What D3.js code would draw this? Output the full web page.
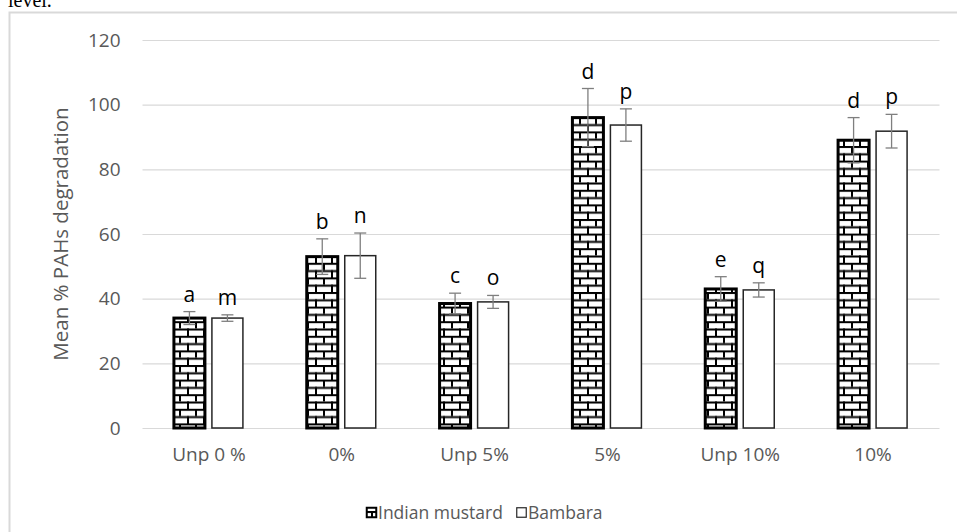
<!DOCTYPE html>
<html>
<head>
<meta charset="utf-8">
<script src="https://cdn.jsdelivr.net/npm/d3@7"></script>
<style>
  html, body { margin: 0; padding: 0; background: #fff; }
  svg { display: block; }
</style>
</head>
<body>
<svg id="chart" width="957" height="532"></svg>
<script>
// Treatments along the x axis
const categories = ["Unp 0 %", "0%", "Unp 5%", "5%", "Unp 10%", "10%"];
const seriesNames = ["Indian mustard", "Bambara"];

// Mean % PAHs degradation and standard error for each plant
const mustardValues = [34, 53, 38.5, 96, 43, 89];
const mustardErrors = [2, 5.5, 3.2, 9, 3.8, 7];
const bambaraValues = [34, 53.3, 39, 93.7, 42.7, 91.8];
const bambaraErrors = [1, 7, 2, 5, 2.2, 5.2];

// Significance letters above each bar
const mustardLetters = ["a", "b", "c", "d", "e", "d"];
const bambaraLetters = ["m", "n", "o", "p", "q", "p"];

const yTicks = [0, 20, 40, 60, 80, 100, 120];

const svg = d3.select("#chart");
const font = "'Open Sans', 'Noto Sans', sans-serif";
const textGrey = "#595959";

// Brick fill used for the Indian mustard bars
const defs = svg.append("defs");
const brick = defs.append("pattern")
  .attr("id", "brick")
  .attr("patternUnits", "userSpaceOnUse")
  .attr("width", 16).attr("height", 14.6);
brick.append("rect").attr("width", 16).attr("height", 14.6).attr("fill", "#fff");
brick.append("rect").attr("x", 0).attr("y", 0).attr("width", 16).attr("height", 2).attr("fill", "#000");
brick.append("rect").attr("x", 0).attr("y", 7.3).attr("width", 16).attr("height", 2).attr("fill", "#000");
brick.append("rect").attr("x", 3).attr("y", 0).attr("width", 2).attr("height", 7.3).attr("fill", "#000");
brick.append("rect").attr("x", 11).attr("y", 7.3).attr("width", 2).attr("height", 7.3).attr("fill", "#000");

// Caption fragment above the chart frame
svg.append("text")
  .attr("x", 8).attr("y", 7)
  .attr("font-family", "'Liberation Serif', 'Times New Roman', serif")
  .attr("font-size", 20)
  .attr("fill", "#000")
  .text("level.");

// Chart frame
svg.append("rect")
  .attr("x", 9.5).attr("y", 12.5)
  .attr("width", 960).attr("height", 540)
  .attr("fill", "#fff")
  .attr("stroke", "#d9d9d9").attr("stroke-width", 2);

const plot = { left: 142.5, right: 939.5, top: 40, bottom: 428 };

const x = d3.scaleBand().domain(categories).range([plot.left, plot.right]).padding(0);
const xSeries = d3.scaleBand().domain(seriesNames).range([-35, 34]).paddingInner(0.184).paddingOuter(0);
const y = d3.scaleLinear().domain([0, 120]).range([plot.bottom, plot.top]);

// Horizontal gridlines and tick labels
const yAxis = d3.axisLeft(y).tickValues(yTicks).tickSize(-(plot.right - plot.left)).tickPadding(22);
const gy = svg.append("g").attr("transform", `translate(${plot.left},0)`).call(yAxis);
gy.select(".domain").remove();
gy.selectAll(".tick line").attr("stroke", "#d9d9d9").attr("stroke-width", 1.2);
gy.selectAll(".tick text")
  .attr("font-family", font).attr("font-size", 19).attr("fill", textGrey);

// Category labels
const xAxis = d3.axisBottom(x).tickSize(0).tickPadding(20);
const gx = svg.append("g").attr("transform", `translate(0,${plot.bottom})`).call(xAxis);
gx.select(".domain").remove();
gx.selectAll(".tick text")
  .attr("font-family", font).attr("font-size", 19).attr("fill", textGrey);

// Y axis title
svg.append("text")
  .attr("transform", `translate(68,${(plot.top + plot.bottom) / 2}) rotate(-90)`)
  .attr("text-anchor", "middle")
  .attr("font-family", font).attr("font-size", 20.5).attr("fill", textGrey)
  .text("Mean % PAHs degradation");

const rows = categories.map((c, i) => [
  { cat: c, series: "Indian mustard", value: mustardValues[i], err: mustardErrors[i], letter: mustardLetters[i] },
  { cat: c, series: "Bambara", value: bambaraValues[i], err: bambaraErrors[i], letter: bambaraLetters[i] }
]).flat();

const cx = d => x(d.cat) + x.bandwidth() / 2 + xSeries(d.series);
const bw = xSeries.bandwidth();

// Bars
svg.append("g").selectAll("rect").data(rows).join("rect")
  .attr("x", d => cx(d))
  .attr("y", d => y(d.value))
  .attr("width", bw)
  .attr("height", d => y(0) - y(d.value))
  .attr("fill", d => d.series === "Indian mustard" ? "url(#brick)" : "#fff")
  .attr("stroke", d => d.series === "Indian mustard" ? "#000" : "#262626")
  .attr("stroke-width", d => d.series === "Indian mustard" ? 3 : 1.5);

// Error bars
const eb = svg.append("g").attr("stroke", "#7f7f7f").attr("stroke-width", 1.3).attr("fill", "none");
rows.forEach(d => {
  const mx = cx(d) + bw / 2;
  eb.append("line").attr("x1", mx).attr("x2", mx).attr("y1", y(d.value + d.err)).attr("y2", y(d.value - d.err));
  eb.append("line").attr("x1", mx - 6).attr("x2", mx + 6).attr("y1", y(d.value + d.err)).attr("y2", y(d.value + d.err));
  eb.append("line").attr("x1", mx - 6).attr("x2", mx + 6).attr("y1", y(d.value - d.err)).attr("y2", y(d.value - d.err));
});

// Significance letters
svg.append("g").selectAll("text").data(rows).join("text")
  .attr("x", d => cx(d) + bw / 2)
  .attr("y", d => y(d.value + d.err) - 10)
  .attr("text-anchor", "middle")
  .attr("font-family", font).attr("font-size", 21).attr("fill", "#000")
  .text(d => d.letter);

// Legend
const legend = svg.append("g").attr("font-family", font).attr("font-size", 17.5).attr("fill", textGrey);
const legendItems = [
  { name: "Indian mustard", x: 366 },
  { name: "Bambara", x: 516 }
];
legendItems.forEach((item, i) => {
  legend.append("rect")
    .attr("x", item.x + 0.75).attr("y", 507.75)
    .attr("width", 9.5).attr("height", 9.5)
    .attr("fill", i === 0 ? "url(#brick)" : "#fff")
    .attr("stroke", i === 0 ? "#000" : "#262626")
    .attr("stroke-width", i === 0 ? 2 : 1.2);
  legend.append("text")
    .attr("x", item.x + 12).attr("y", 519)
    .text(item.name);
});
</script>
</body>
</html>
